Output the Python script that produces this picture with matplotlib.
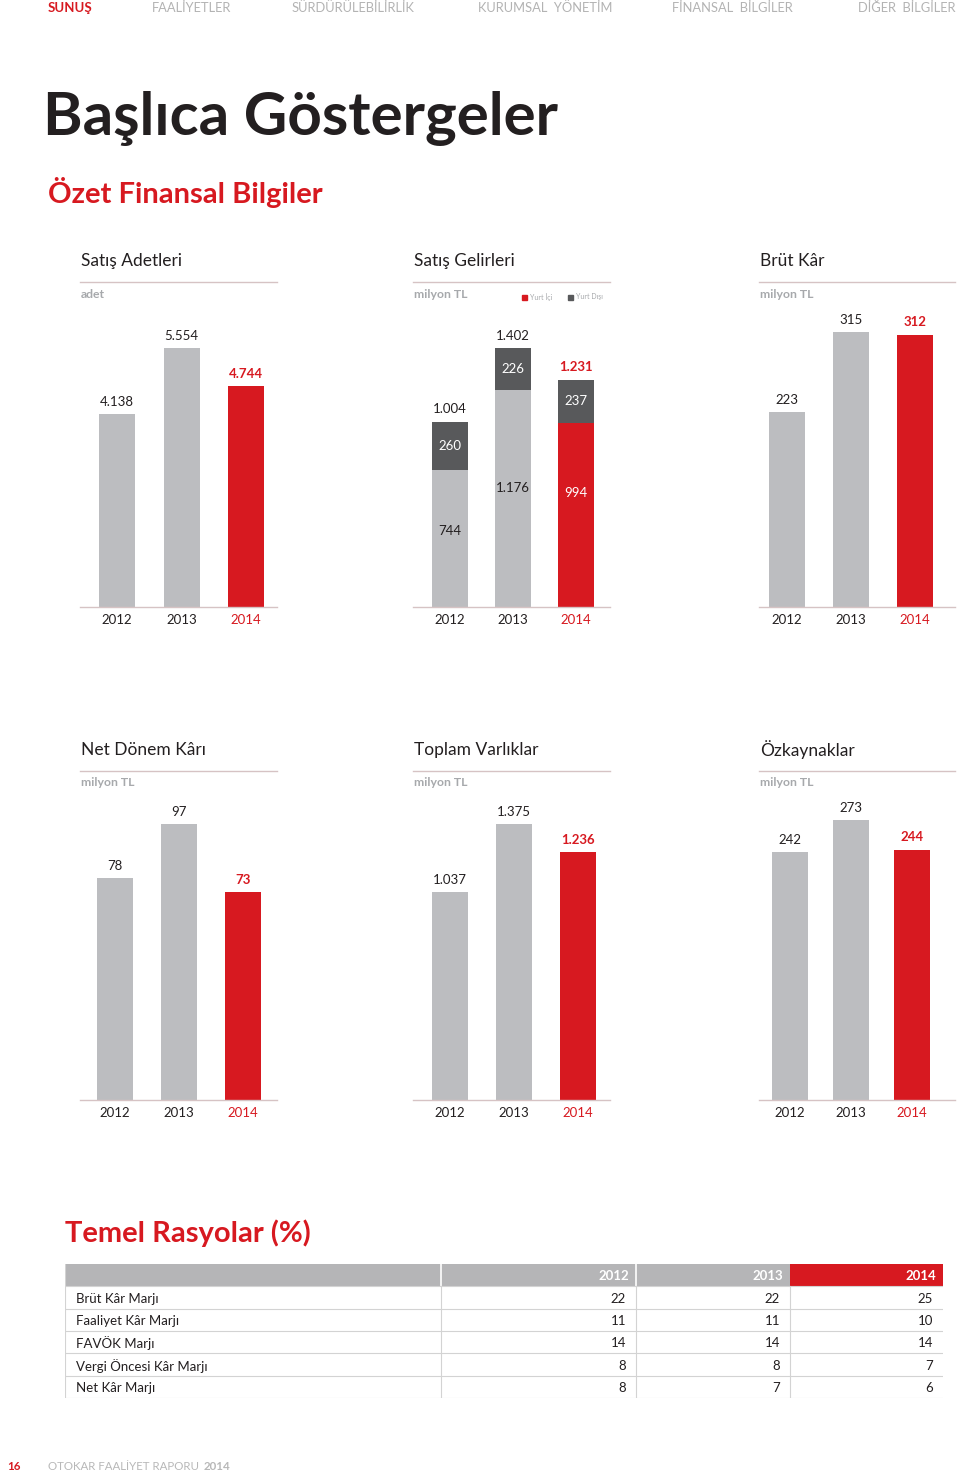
import matplotlib
matplotlib.use("Agg")
import matplotlib.pyplot as plt
from matplotlib.lines import Line2D
from matplotlib.patches import Rectangle

W, H = 960, 1475

RED = "#d71920"
LIGHT = "#bcbdc0"
DARK = "#58595b"
TEXT = "#231f20"
RULE = "#d6c3c4"
MUTED = "#a7a9ac"

plt.rcParams["font.family"] = ["Lato", "DejaVu Sans"]

# ---- data ----
years = ["2012", "2013", "2014"]
nav_items = ["SUNUŞ", "FAALİYETLER", "SÜRDÜRÜLEBİLİRLİK", "KURUMSAL  YÖNETİM",
             "FİNANSAL  BİLGİLER", "DİĞER  BİLGİLER"]

satis_adet = [4138, 5554, 4744]
gelir_yurt_ici = [744, 1176, 994]
gelir_yurt_disi = [260, 226, 237]
brut_kar = [223, 315, 312]
net_kar = [78, 97, 73]
toplam_varlik = [1037, 1375, 1236]
ozkaynak = [242, 273, 244]

ratio_names = ["Brüt Kâr Marjı", "Faaliyet Kâr Marjı", "FAVÖK Marjı",
               "Vergi Öncesi Kâr Marjı", "Net Kâr Marjı"]
ratio_2012 = [22, 11, 14, 8, 8]
ratio_2013 = [22, 11, 14, 8, 7]
ratio_2014 = [25, 10, 14, 7, 6]


def tr(v):
    return f"{v:,}".replace(",", ".")


fig = plt.figure(figsize=(W / 100, H / 100), dpi=100)


def ptext(x, y, s, **kw):
    kw.setdefault("color", TEXT)
    return fig.text(x / W, 1 - y / H, s, **kw)


def hline(x0, x1, y, color=RULE, lw=1.0):
    fig.add_artist(Line2D([x0 / W, x1 / W], [1 - y / H, 1 - y / H],
                          transform=fig.transFigure, color=color, lw=lw))


# ---- header ----
nav_x = [48, 152, 292, 478, 672, 858]
for i, (name, x) in enumerate(zip(nav_items, nav_x)):
    if i == 0:
        ptext(x, 8, name, color=RED, fontsize=9.5, fontweight="bold", va="center")
    else:
        ptext(x, 8, name, color="#b3b3b3", fontsize=9.3, va="center")

ptext(43, 118, "Başlıca Göstergeler", fontsize=43.3, fontweight="bold", va="center")
ptext(48, 192, "Özet Finansal Bilgiler", color=RED, fontsize=21, fontweight="bold", va="center")


# ---- bar panels ----
def panel(title, unit, left, right, base, top, center0, head_y, bottom, upper=None, step=64.0):
    hline(left, right, head_y + 21)
    ptext(left + 1, head_y, title, fontsize=12.5, va="center")
    ptext(left + 1, head_y + 33, unit, color=MUTED, fontsize=8.8, fontweight="bold", va="center")

    ax = fig.add_axes([left / W, 1 - base / H, (right - left) / W, (base - top) / H])
    x = list(range(3))
    colors = [LIGHT, LIGHT, RED]
    totals = bottom if upper is None else [a + b for a, b in zip(bottom, upper)]
    ax.bar(x, bottom, width=36 / step, color=colors, zorder=2)
    if upper is not None:
        ax.bar(x, upper, bottom=bottom, width=36 / step, color=DARK, zorder=2)
        for i in x:
            ax.text(i, bottom[i] + upper[i] / 2, str(upper[i]), ha="center", va="center",
                    color="white", fontsize=9.5)
            frac = 0.62 if i == 2 else 0.55
            ax.text(i, bottom[i] * frac, tr(bottom[i]), ha="center", va="center",
                    color="white" if i == 2 else TEXT, fontsize=9.5)
    for i in x:
        last = i == 2
        ax.annotate(tr(totals[i]), (i, totals[i]), xytext=(0, 4.5), textcoords="offset points",
                    ha="center", va="bottom", fontsize=9.5,
                    color=RED if last else TEXT, fontweight="bold" if last else "normal")
    x0 = -(center0 - left) / step
    ax.set_xlim(x0, x0 + (right - left) / step)
    ax.set_ylim(0, max(totals))
    for s in ["top", "left", "right"]:
        ax.spines[s].set_visible(False)
    ax.spines["bottom"].set_color(RULE)
    ax.spines["bottom"].set_linewidth(1.0)
    ax.set_yticks([])
    ax.set_xticks(x)
    ax.set_xticklabels(years, fontsize=9.5)
    ax.tick_params(axis="x", length=0, pad=5, colors=TEXT)
    ax.get_xticklabels()[2].set_color(RED)
    ax.set_facecolor("none")
    return ax


panel("Satış Adetleri", "adet", 80, 277, 607, 348, 117, 261, satis_adet, step=64.5)
panel("Satış Gelirleri", "milyon TL", 413, 610, 607, 348, 450, 261,
      gelir_yurt_ici, gelir_yurt_disi, step=63.0)
panel("Brüt Kâr", "milyon TL", 759, 955, 607, 332, 787, 261, brut_kar)

# legend of the revenue panel
fig.add_artist(Rectangle((522 / W, 1 - 300 / H), 5 / W, 5 / H, transform=fig.transFigure,
                         color=RED))
ptext(530, 297, "Yurt İçi", color=MUTED, fontsize=5, va="center")
fig.add_artist(Rectangle((568 / W, 1 - 300 / H), 5 / W, 5 / H, transform=fig.transFigure,
                         color=DARK))
ptext(576, 297, "Yurt Dışı", color=MUTED, fontsize=5, va="center")

panel("Net Dönem Kârı", "milyon TL", 80, 277, 1100, 824, 115, 750, net_kar)
panel("Toplam Varlıklar", "milyon TL", 413, 610, 1100, 824, 450, 750, toplam_varlik)
panel("Özkaynaklar", "milyon TL", 759, 955, 1100, 820, 790, 750, ozkaynak, step=61.0)


# ---- ratio table ----
ptext(65, 1233, "Temel Rasyolar (%)", color=RED, fontsize=21, fontweight="bold", va="center")

tl, tr_, tt, tb = 65, 943, 1264, 1398
tax = fig.add_axes([tl / W, 1 - tb / H, (tr_ - tl) / W, (tb - tt) / H])
tax.set_xlim(tl, tr_)
tax.set_ylim(len(ratio_names) + 1, 0)
tax.axis("off")
col_edges = [tl, 441, 636, 790, tr_]
tax.add_patch(Rectangle((tl, 0), 790 - tl, 1, color="#b5b5b7", lw=0))
tax.add_patch(Rectangle((790, 0), tr_ - 790, 1, color=RED, lw=0))
for xe in col_edges[1:3]:
    tax.plot([xe, xe], [0, 1], color="white", lw=1.2)
for xe in col_edges[1:4]:
    tax.plot([xe, xe], [1, len(ratio_names) + 1], color="#d3d3d3", lw=0.8)
tax.plot([tl, tl], [0, len(ratio_names) + 1], color="#d3d3d3", lw=0.8)
for r in range(1, len(ratio_names) + 2):
    tax.plot([tl, tr_], [r, r], color="#d3d3d3", lw=0.8)

for j, y in enumerate(years):
    tax.text(col_edges[j + 2] - 7, 0.55, y, ha="right", va="center", color="white",
             fontsize=9.5, fontweight="bold")
for r, (name, a, b, c) in enumerate(zip(ratio_names, ratio_2012, ratio_2013, ratio_2014)):
    yy = r + 1.55
    tax.text(tl + 11, yy, name, ha="left", va="center", color=TEXT, fontsize=9.5)
    for j, v in enumerate([a, b, c]):
        tax.text(col_edges[j + 2] - 10, yy, str(v), ha="right", va="center", color=TEXT,
                 fontsize=9.5)

# ---- footer ----
ptext(7, 1466, "16", color=RED, fontsize=8.3, fontweight="bold", va="center")
ptext(48, 1466, "OTOKAR FAALİYET RAPORU", color="#b8b8b8", fontsize=8.3, va="center")
ptext(204, 1466, "2014", color="#b8b8b8", fontsize=8.3, fontweight="bold", va="center")

fig.savefig("out.png", dpi=100)
